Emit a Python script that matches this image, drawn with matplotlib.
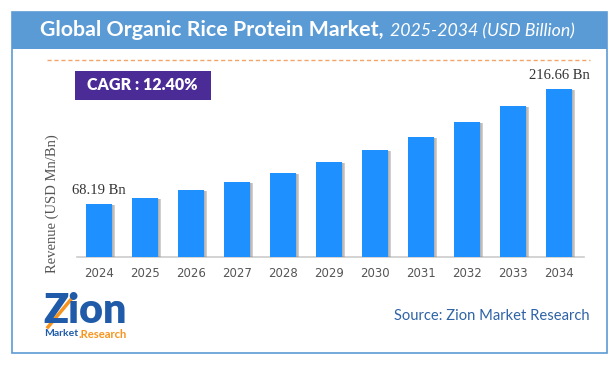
import matplotlib
matplotlib.use("Agg")
import matplotlib.pyplot as plt
from matplotlib.patches import Rectangle
import matplotlib.patheffects as pe
from matplotlib.lines import Line2D

years = ["2024", "2025", "2026", "2027", "2028", "2029", "2030", "2031", "2032", "2033", "2034"]
revenue = [68.19, 76.6, 86.1, 96.8, 108.8, 122.3, 137.5, 154.5, 173.7, 195.2, 216.66]
first_label = "68.19 Bn"
last_label = "216.66 Bn"
title_main = "Global Organic Rice Protein Market,"
title_sub = "2025-2034 (USD Billion)"
cagr_text = "CAGR : 12.40%"
y_label = "Revenue (USD Mn/Bn)"
source_text = "Source: Zion Market Research"

W, H = 616, 370
fig = plt.figure(figsize=(W / 100, H / 100), dpi=100)
fig.patch.set_facecolor("white")
renderer = fig.canvas.get_renderer()


def fx(x):
    return x / W


def fy(y):
    return 1 - y / H


def fit_text(x, y, s, width_px, size0=10, **kw):
    t = fig.text(fx(x), fy(y), s, fontsize=size0, **kw)
    w = t.get_window_extent(renderer).width
    t.set_fontsize(size0 * width_px / w)
    return t


# outer border and title bar
fig.patches.append(Rectangle((fx(12), fy(353)), fx(607) - fx(12), fy(12) - fy(353),
                             transform=fig.transFigure, facecolor="none",
                             edgecolor="#5B9BD5", lw=1.2))
fig.patches.append(Rectangle((fx(12), fy(49)), fx(607) - fx(12), fy(12) - fy(49),
                             transform=fig.transFigure, facecolor="#5B9BD5",
                             edgecolor="none"))
fit_text(40, 30, title_main, 344, color="white", fontweight="bold",
         family="Lato", ha="left", va="center")
fit_text(390, 31, title_sub, 185, color="white", style="italic",
         family="Lato", ha="left", va="center")

# dashed separator
fig.lines.append(Line2D([fx(47), fx(590)], [fy(60), fy(60)], transform=fig.transFigure,
                        color="#F4A46A", lw=1.0, linestyle=(0, (3, 2))))

# CAGR box
fig.patches.append(Rectangle((fx(75), fy(100)), fx(211) - fx(75), fy(71) - fy(100),
                             transform=fig.transFigure, facecolor="#4B2C96",
                             edgecolor="none"))
fit_text(142, 85, cagr_text, 110, color="white", fontweight="heavy",
         family="Lato", ha="center", va="center")

# chart axes
ppu = 0.775
ymax = 250
ax_left, ax_right = 77, 584
base = 257
ax = fig.add_axes([fx(ax_left), fy(base), fx(ax_right) - fx(ax_left), ymax * ppu / H])
ax.set_xlim(-0.48, 10.54)
ax.set_ylim(0, ymax)
x = list(range(len(years)))
bars = ax.bar(x, revenue, width=0.565, color="#1E90FF", zorder=3)
shadow = []
for k in range(4):
    shadow.append(pe.SimplePatchShadow(offset=(0.6 + 0.6 * k, -0.7),
                                       shadow_rgbFace="#888888", alpha=0.22))
for b in bars:
    b.set_path_effects(shadow + [pe.Normal()])
for s in ["top", "right", "left"]:
    ax.spines[s].set_visible(False)
ax.spines["bottom"].set_color("#cccccc")
ax.spines["bottom"].set_linewidth(1.2)
ax.set_yticks([])
ax.set_xticks(x)
ax.set_xticklabels(years, color="#555555", fontsize=8.5, family="DejaVu Sans")
ax.tick_params(axis="x", length=0, pad=7)
ax.set_facecolor("none")

ax.text(0, revenue[0] + 9, first_label, ha="center", va="bottom", fontsize=10.5,
        family="Liberation Serif", color="#333333")
ax.text(10, revenue[-1] + 9, last_label, ha="center", va="bottom", fontsize=10.5,
        family="Liberation Serif", color="#333333")

fig.text(fx(52), fy(204), y_label, rotation=90, ha="center", va="center",
         fontsize=10.5, family="Liberation Serif", color="#555555")

# source
fit_text(394, 316, source_text, 195, ha="left", va="center",
         family="Lato", color="#2E63A6")

# logo
fit_text(43, 311, "Zion", 84, ha="left", va="center", fontweight="heavy",
         family="Lato", color="#1F5BA8")
fig.lines.append(Line2D([fx(48), fx(73)], [fy(327), fy(297)], transform=fig.transFigure,
                        color="#F7941D", lw=2.5))
t1 = fit_text(44, 334, "Market", 34, ha="left", va="center", fontweight="bold",
              family="Lato", color="#1F5BA8")
fit_text(79, 334, ".Research", 49, ha="left", va="center", fontweight="bold",
         family="Lato", color="#F7941D")

fig.savefig("out.png", dpi=100, facecolor="white")
